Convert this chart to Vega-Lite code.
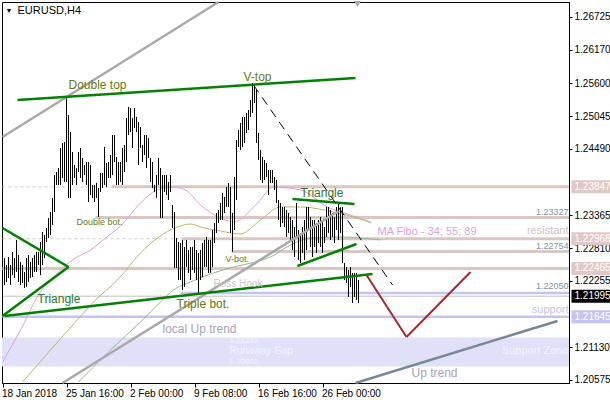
{
"$schema": "https://vega.github.io/schema/vega-lite/v6.json",
"width": 567, "height": 381,
"autosize": {"type": "none"},
"padding": {"left": 2, "top": 2, "right": 41, "bottom": 17},
"background": "white",
"config": {"view": {"stroke": "black", "strokeWidth": 1}, "font": "Liberation Sans"},
"encoding": {
 "x": {"field": "i", "type": "quantitative", "scale": {"domain": [-0.25, 283.25], "nice": false, "zero": false},
  "axis": {"title": null, "values": [0, 32, 64, 96, 128, 160], "labelExpr": "datum.value == 0 ? '18 Jan 2018' : datum.value == 32 ? '25 Jan 16:00' : datum.value == 64 ? '2 Feb 00:00' : datum.value == 96 ? '9 Feb 08:00' : datum.value == 128 ? '16 Feb 16:00' : '26 Feb 00:00'", "labelAlign": "left", "labelBaseline": "top", "labelFontSize": 10, "labelColor": "black", "labelPadding": 1, "labelOffset": -1, "tickSize": 4, "tickColor": "black", "domainColor": "black", "grid": false, "labelFlush": false, "labelOverlap": false}},
 "y": {"field": "p", "type": "quantitative", "scale": {"domain": [1.20524, 1.26979], "nice": false, "zero": false},
  "axis": {"orient": "right", "title": null, "values": [1.20575, 1.2113, 1.22255, 1.2281, 1.23365, 1.2449, 1.25045, 1.256, 1.2617, 1.26725], "format": ".5f", "labelFontSize": 10, "labelColor": "black", "tickSize": 3, "tickColor": "black", "domainColor": "black", "grid": false, "labelPadding": 2, "labelBaseline": "middle", "labelFlush": false, "labelOverlap": false}}
},
"layer": [
 {"data": {"values": [{"i": -0.25, "i2": 283.25, "p": 1.21293, "p2": 1.20802}]},
  "mark": {"type": "rect", "color": "#e0e0f8"},
  "encoding": {"x2": {"field": "i2"}, "y2": {"field": "p2"}}},
 {"data": {"values": [{"i": 0, "i2": 54.5, "p": 1.23847}, {"i": 0, "i2": 89.5, "p": 1.22968}]},
  "mark": {"type": "rule", "color": "#e6c4c4", "strokeWidth": 1, "strokeDash": [3, 3]},
  "encoding": {"x2": {"field": "i2"}}},
 {"data": {"values": [{"i": 54.5, "i2": 283.25, "p": 1.23847}, {"i": 46.5, "i2": 283.25, "p": 1.23327}, {"i": 89.5, "i2": 283.25, "p": 1.22968}, {"i": 114.5, "i2": 283.25, "p": 1.22754}, {"i": 0, "i2": 283.25, "p": 1.22465}]},
  "mark": {"type": "rule", "color": "#dcc6c2", "strokeWidth": 3},
  "encoding": {"x2": {"field": "i2"}}},
 {"data": {"values": [{"i": 89, "i2": 283.25, "p": 1.2205}, {"i": 0, "i2": 283.25, "p": 1.21645}]},
  "mark": {"type": "rule", "color": "#c4c4f4", "strokeWidth": 2.5},
  "encoding": {"x2": {"field": "i2"}}},
 {"data": {"values": [{"i": 0, "i2": 283.25, "p": 1.21995}]},
  "mark": {"type": "rule", "color": "#c0c0c0", "strokeWidth": 1},
  "encoding": {"x2": {"field": "i2"}}},
 {"data": {"values": [
  {"s": "34", "i": 0, "p": 1.2088}, {"s": "34", "i": 9, "p": 1.21421}, {"s": "34", "i": 18, "p": 1.22015}, {"s": "34", "i": 26.5, "p": 1.22354}, {"s": "34", "i": 36.5, "p": 1.22642}, {"s": "34", "i": 44, "p": 1.22777}, {"s": "34", "i": 51.5, "p": 1.22981}, {"s": "34", "i": 59.5, "p": 1.23201}, {"s": "34", "i": 68, "p": 1.2354}, {"s": "34", "i": 77.5, "p": 1.23794}, {"s": "34", "i": 85.5, "p": 1.23845}, {"s": "34", "i": 91.5, "p": 1.23794}, {"s": "34", "i": 99, "p": 1.2354}, {"s": "34", "i": 109, "p": 1.2332}, {"s": "34", "i": 115.5, "p": 1.23252}, {"s": "34", "i": 127.5, "p": 1.23574}, {"s": "34", "i": 135.5, "p": 1.23845}, {"s": "34", "i": 149, "p": 1.23794}, {"s": "34", "i": 162.5, "p": 1.23506}, {"s": "34", "i": 174, "p": 1.2337}, {"s": "34", "i": 184, "p": 1.23252},
  {"s": "55", "i": 10, "p": 1.20541}, {"s": "55", "i": 24, "p": 1.21083}, {"s": "55", "i": 36.5, "p": 1.21558}, {"s": "55", "i": 46.5, "p": 1.2193}, {"s": "55", "i": 57.5, "p": 1.22269}, {"s": "55", "i": 69, "p": 1.22727}, {"s": "55", "i": 77.5, "p": 1.22981}, {"s": "55", "i": 87.5, "p": 1.23167}, {"s": "55", "i": 94, "p": 1.23218}, {"s": "55", "i": 99, "p": 1.23167}, {"s": "55", "i": 109, "p": 1.23099}, {"s": "55", "i": 119, "p": 1.23049}, {"s": "55", "i": 129, "p": 1.23286}, {"s": "55", "i": 139, "p": 1.23506}, {"s": "55", "i": 149, "p": 1.23506}, {"s": "55", "i": 165.5, "p": 1.23421}, {"s": "55", "i": 175.5, "p": 1.23337}, {"s": "55", "i": 184.5, "p": 1.23235},
  {"s": "89", "i": 38, "p": 1.20541}, {"s": "89", "i": 54, "p": 1.21083}, {"s": "89", "i": 69, "p": 1.21558}, {"s": "89", "i": 79, "p": 1.21896}, {"s": "89", "i": 85.5, "p": 1.221}, {"s": "89", "i": 94, "p": 1.22235}, {"s": "89", "i": 104, "p": 1.22371}, {"s": "89", "i": 115.5, "p": 1.2249}, {"s": "89", "i": 126.5, "p": 1.22574}, {"s": "89", "i": 134, "p": 1.22659}, {"s": "89", "i": 144, "p": 1.22862}, {"s": "89", "i": 154, "p": 1.22981}, {"s": "89", "i": 169, "p": 1.22998}, {"s": "89", "i": 189, "p": 1.22947}
 ]},
  "mark": {"type": "line", "strokeWidth": 1, "interpolate": "monotone"},
  "encoding": {"color": {"field": "s", "type": "nominal", "scale": {"domain": ["34", "55", "89"], "range": ["#dda0dd", "#bdb76b", "#8fbc8f"]}, "legend": null}}},
 {"data": {"values": [
  {"i":0,"p":1.22185,"p2":1.21846},{"i":1,"p":1.22642,"p2":1.22185},{"i":2,"p":1.22523,"p2":1.22235},{"i":3,"p":1.22659,"p2":1.22303},{"i":4,"p":1.22523,"p2":1.22185},{"i":5,"p":1.22744,"p2":1.22354},{"i":6,"p":1.22642,"p2":1.22303},{"i":7,"p":1.22947,"p2":1.22405},{"i":8,"p":1.22693,"p2":1.22235},{"i":9,"p":1.22574,"p2":1.22185},
  {"i":10,"p":1.22523,"p2":1.22218},{"i":11,"p":1.22405,"p2":1.22134},{"i":12,"p":1.22642,"p2":1.22151},{"i":13,"p":1.22693,"p2":1.22235},{"i":14,"p":1.22574,"p2":1.22303},{"i":15,"p":1.22642,"p2":1.2232},{"i":16,"p":1.22693,"p2":1.22405},{"i":17,"p":1.22744,"p2":1.22405},{"i":18,"p":1.22744,"p2":1.22523},{"i":19,"p":1.22913,"p2":1.22354},
  {"i":20,"p":1.23083,"p2":1.22523},{"i":21,"p":1.23032,"p2":1.22642},{"i":22,"p":1.2315,"p2":1.22913},{"i":23,"p":1.2332,"p2":1.22981},{"i":24,"p":1.23421,"p2":1.23032},{"i":25,"p":1.23659,"p2":1.23201},{"i":26,"p":1.24048,"p2":1.23421},{"i":27,"p":1.24099,"p2":1.23879},{"i":28,"p":1.24167,"p2":1.23879},{"i":29,"p":1.24506,"p2":1.23879},
  {"i":30,"p":1.2459,"p2":1.23997},{"i":31,"p":1.24607,"p2":1.2393},{"i":32,"p":1.25353,"p2":1.2393},{"i":33,"p":1.25065,"p2":1.23659},{"i":34,"p":1.24777,"p2":1.23659},{"i":35,"p":1.24438,"p2":1.23879},{"i":36,"p":1.24218,"p2":1.23997},{"i":37,"p":1.24167,"p2":1.23879},{"i":38,"p":1.24438,"p2":1.24099},{"i":39,"p":1.24506,"p2":1.23997},
  {"i":40,"p":1.24336,"p2":1.2393},{"i":41,"p":1.24218,"p2":1.24048},{"i":42,"p":1.24268,"p2":1.23879},{"i":43,"p":1.24268,"p2":1.23591},{"i":44,"p":1.24218,"p2":1.23709},{"i":45,"p":1.23879,"p2":1.23659},{"i":46,"p":1.23879,"p2":1.23591},{"i":47,"p":1.23913,"p2":1.23659},{"i":48,"p":1.23828,"p2":1.23337},{"i":49,"p":1.24082,"p2":1.2376},
  {"i":50,"p":1.24082,"p2":1.23828},{"i":51,"p":1.24523,"p2":1.23879},{"i":52,"p":1.24251,"p2":1.23845},{"i":53,"p":1.24268,"p2":1.23997},{"i":54,"p":1.24387,"p2":1.23997},{"i":55,"p":1.24726,"p2":1.24048},{"i":56,"p":1.24726,"p2":1.24268},{"i":57,"p":1.24353,"p2":1.23879},{"i":58,"p":1.24268,"p2":1.23879},{"i":59,"p":1.24268,"p2":1.2393},
  {"i":60,"p":1.24506,"p2":1.23879},{"i":61,"p":1.24556,"p2":1.24099},{"i":62,"p":1.25014,"p2":1.24268},{"i":63,"p":1.252,"p2":1.24726},{"i":64,"p":1.25183,"p2":1.24777},{"i":65,"p":1.25014,"p2":1.24506},{"i":66,"p":1.25183,"p2":1.24844},{"i":67,"p":1.25031,"p2":1.24777},{"i":68,"p":1.24946,"p2":1.24218},{"i":69,"p":1.24861,"p2":1.24506},
  {"i":70,"p":1.24556,"p2":1.24268},{"i":71,"p":1.24726,"p2":1.24387},{"i":72,"p":1.24726,"p2":1.24167},{"i":73,"p":1.24675,"p2":1.24336},{"i":74,"p":1.24336,"p2":1.2393},{"i":75,"p":1.24268,"p2":1.23828},{"i":76,"p":1.23879,"p2":1.2376},{"i":77,"p":1.24048,"p2":1.23659},{"i":78,"p":1.24336,"p2":1.23879},{"i":79,"p":1.24167,"p2":1.2332},
  {"i":80,"p":1.24048,"p2":1.2332},{"i":81,"p":1.24048,"p2":1.2376},{"i":82,"p":1.24048,"p2":1.23709},{"i":83,"p":1.2393,"p2":1.23625},{"i":84,"p":1.24048,"p2":1.2376},{"i":85,"p":1.2354,"p2":1.2315},{"i":86,"p":1.23421,"p2":1.22473},{"i":87,"p":1.22981,"p2":1.22473},{"i":88,"p":1.22913,"p2":1.22269},{"i":89,"p":1.22896,"p2":1.22269},
  {"i":90,"p":1.22947,"p2":1.221},{"i":91,"p":1.22828,"p2":1.22151},{"i":92,"p":1.22947,"p2":1.2249},{"i":93,"p":1.22778,"p2":1.22388},{"i":94,"p":1.22828,"p2":1.22269},{"i":95,"p":1.22828,"p2":1.22439},{"i":96,"p":1.22947,"p2":1.22388},{"i":97,"p":1.22778,"p2":1.22269},{"i":98,"p":1.22727,"p2":1.22049},{"i":99,"p":1.22778,"p2":1.22269},
  {"i":100,"p":1.22896,"p2":1.2232},{"i":101,"p":1.22947,"p2":1.2249},{"i":102,"p":1.22998,"p2":1.2249},{"i":103,"p":1.22947,"p2":1.22388},{"i":104,"p":1.22947,"p2":1.22388},{"i":105,"p":1.23116,"p2":1.2249},{"i":106,"p":1.23235,"p2":1.22896},{"i":107,"p":1.23404,"p2":1.23066},{"i":108,"p":1.23455,"p2":1.23235},{"i":109,"p":1.23574,"p2":1.23286},
  {"i":110,"p":1.23743,"p2":1.23286},{"i":111,"p":1.23675,"p2":1.23404},{"i":112,"p":1.23845,"p2":1.23506},{"i":113,"p":1.23913,"p2":1.23506},{"i":114,"p":1.23845,"p2":1.23066},{"i":115,"p":1.23404,"p2":1.22744},{"i":116,"p":1.24014,"p2":1.23116},{"i":117,"p":1.24641,"p2":1.23625},{"i":118,"p":1.24811,"p2":1.24523},{"i":119,"p":1.24929,"p2":1.24472},
  {"i":120,"p":1.25031,"p2":1.24523},{"i":121,"p":1.25031,"p2":1.2459},{"i":122,"p":1.25099,"p2":1.2476},{"i":123,"p":1.25149,"p2":1.24811},{"i":124,"p":1.25319,"p2":1.25031},{"i":125,"p":1.25607,"p2":1.25099},{"i":126,"p":1.25539,"p2":1.25268},{"i":127,"p":1.25488,"p2":1.2459},{"i":128,"p":1.2476,"p2":1.24302},{"i":129,"p":1.24472,"p2":1.23963},
  {"i":130,"p":1.24353,"p2":1.23913},{"i":131,"p":1.24302,"p2":1.23963},{"i":132,"p":1.24251,"p2":1.24014},{"i":133,"p":1.24133,"p2":1.23709},{"i":134,"p":1.24133,"p2":1.23913},{"i":135,"p":1.24133,"p2":1.23913},{"i":136,"p":1.24014,"p2":1.23794},{"i":137,"p":1.23963,"p2":1.23574},{"i":138,"p":1.23625,"p2":1.23286},{"i":139,"p":1.23574,"p2":1.23167},
  {"i":140,"p":1.23506,"p2":1.23235},{"i":141,"p":1.23506,"p2":1.23167},{"i":142,"p":1.23455,"p2":1.22998},{"i":143,"p":1.23404,"p2":1.23066},{"i":144,"p":1.23337,"p2":1.22947},{"i":145,"p":1.23286,"p2":1.22778},{"i":146,"p":1.23167,"p2":1.22659},{"i":147,"p":1.23574,"p2":1.22998},{"i":148,"p":1.23116,"p2":1.22608},{"i":149,"p":1.23066,"p2":1.22557},
  {"i":150,"p":1.23167,"p2":1.22727},{"i":151,"p":1.23286,"p2":1.22608},{"i":152,"p":1.23506,"p2":1.22778},{"i":153,"p":1.23506,"p2":1.23116},{"i":154,"p":1.23337,"p2":1.22828},{"i":155,"p":1.23286,"p2":1.22659},{"i":156,"p":1.23286,"p2":1.22828},{"i":157,"p":1.23235,"p2":1.22727},{"i":158,"p":1.23286,"p2":1.22896},{"i":159,"p":1.23337,"p2":1.22828},
  {"i":160,"p":1.23286,"p2":1.22727},{"i":161,"p":1.23167,"p2":1.22896},{"i":162,"p":1.23506,"p2":1.22998},{"i":163,"p":1.23506,"p2":1.23066},{"i":164,"p":1.23455,"p2":1.22947},{"i":165,"p":1.23404,"p2":1.22998},{"i":166,"p":1.23337,"p2":1.22896},{"i":167,"p":1.23506,"p2":1.23116},{"i":168,"p":1.23574,"p2":1.22947},{"i":169,"p":1.23506,"p2":1.23066},
  {"i":170,"p":1.23506,"p2":1.22557},{"i":171,"p":1.22557,"p2":1.22269},{"i":172,"p":1.2249,"p2":1.22218},{"i":173,"p":1.22439,"p2":1.21981},{"i":174,"p":1.2249,"p2":1.22151},{"i":175,"p":1.22388,"p2":1.2188},{"i":176,"p":1.22388,"p2":1.21981},{"i":177,"p":1.22388,"p2":1.2193},{"i":178,"p":1.22269,"p2":1.2188}
 ]},
  "mark": {"type": "rule", "color": "black", "strokeWidth": 1},
  "encoding": {"y2": {"field": "p2"}}},
 {"data": {"values": [{"i": 0, "p": 1.24692, "i2": 108, "p2": 1.26979}, {"i": 30, "p": 1.20524, "i2": 168, "p2": 1.23438}]},
  "mark": {"type": "rule", "color": "#a9a9a9", "strokeWidth": 2.5},
  "encoding": {"x2": {"field": "i2"}, "y2": {"field": "p2"}}},
 {"data": {"values": [{"i": 176.5, "p": 1.20524, "i2": 277.5, "p2": 1.21575}]},
  "mark": {"type": "rule", "color": "#778899", "strokeWidth": 2.5},
  "encoding": {"x2": {"field": "i2"}, "y2": {"field": "p2"}}},
 {"data": {"values": [{"i": 7.5, "p": 1.25319, "i2": 176.5, "p2": 1.25692}, {"i": 0, "p": 1.2315, "i2": 33, "p2": 1.2249}, {"i": 33, "p": 1.2249, "i2": 0, "p2": 1.21659}, {"i": 1, "p": 1.21659, "i2": 185, "p2": 1.22371}, {"i": 145, "p": 1.23642, "i2": 176, "p2": 1.23557}, {"i": 147.5, "p": 1.22506, "i2": 177, "p2": 1.22879}]},
  "mark": {"type": "rule", "color": "#008000", "strokeWidth": 2.5},
  "encoding": {"x2": {"field": "i2"}, "y2": {"field": "p2"}}},
 {"data": {"values": [{"i": 125.5, "p": 1.25573, "i2": 195, "p2": 1.22185}]},
  "mark": {"type": "rule", "color": "black", "strokeWidth": 1, "strokeDash": [9, 6]},
  "encoding": {"x2": {"field": "i2"}, "y2": {"field": "p2"}}},
 {"data": {"values": [{"i": 182, "p": 1.22354, "i2": 202, "p2": 1.21303}, {"i": 202, "p": 1.21303, "i2": 234, "p2": 1.22405}]},
  "mark": {"type": "rule", "color": "#a52a2a", "strokeWidth": 2},
  "encoding": {"x2": {"field": "i2"}, "y2": {"field": "p2"}}},
 {"data": {"values": [{"i": 177.5, "p": 1.26945}]},
  "mark": {"type": "point", "shape": "triangle-down", "filled": true, "color": "#a9a9a9", "size": 45, "opacity": 1}},
 {"data": {"values": [{"t": "EURUSD,H4", "i": 7.5, "p": 1.26827}]},
  "mark": {"type": "text", "align": "left", "baseline": "middle", "fontSize": 11, "color": "black"},
  "encoding": {"text": {"field": "t"}}},
 {"data": {"values": [{"t": "▼", "i": 1.5, "p": 1.26827}]},
  "mark": {"type": "text", "align": "left", "baseline": "middle", "fontSize": 7, "color": "black"},
  "encoding": {"text": {"field": "t"}}},
 {"data": {"values": [{"t": "Double top", "i": 33, "p": 1.25573}, {"t": "V-top", "i": 120.5, "p": 1.25708}, {"t": "Triple bot.", "i": 87, "p": 1.21863}]},
  "mark": {"type": "text", "align": "left", "baseline": "middle", "fontSize": 12, "color": "#667a14"},
  "encoding": {"text": {"field": "t"}}},
 {"data": {"values": [{"t": "Triangle", "i": 149, "p": 1.23743}, {"t": "Triangle", "i": 17.5, "p": 1.21947}]},
  "mark": {"type": "text", "align": "left", "baseline": "middle", "fontSize": 12, "color": "#2e7a2e"},
  "encoding": {"text": {"field": "t"}}},
 {"data": {"values": [{"t": "Double bot.", "i": 37, "p": 1.23252}, {"t": "V-bot.", "i": 111.5, "p": 1.22625}]},
  "mark": {"type": "text", "align": "left", "baseline": "middle", "fontSize": 9, "color": "#667a14"},
  "encoding": {"text": {"field": "t"}}},
 {"data": {"values": [{"t": "Ross Hook", "i": 105.5, "p": 1.22201}]},
  "mark": {"type": "text", "align": "left", "baseline": "middle", "fontSize": 10, "color": "#c8c8c8"},
  "encoding": {"text": {"field": "t"}}},
 {"data": {"values": [{"t": "local Up trend", "i": 80, "p": 1.21439}, {"t": "Up trend", "i": 204.5, "p": 1.20694}]},
  "mark": {"type": "text", "align": "left", "baseline": "middle", "fontSize": 12, "color": "#a4a4bc"},
  "encoding": {"text": {"field": "t"}}},
 {"data": {"values": [{"t": "1.21293", "i": 113.5, "p": 1.21236}, {"t": "1.20802", "i": 113.5, "p": 1.2088}]},
  "mark": {"type": "text", "align": "left", "baseline": "middle", "fontSize": 8, "color": "#f4f4ff"},
  "encoding": {"text": {"field": "t"}}},
 {"data": {"values": [{"t": "Runaway Gap", "i": 113.5, "p": 1.21066}]},
  "mark": {"type": "text", "align": "left", "baseline": "middle", "fontSize": 10, "color": "#f4f4ff"},
  "encoding": {"text": {"field": "t"}}},
 {"data": {"values": [{"t": "Support Zone", "i": 283, "p": 1.21066}]},
  "mark": {"type": "text", "align": "right", "baseline": "middle", "fontSize": 11, "color": "#f4f4ff"},
  "encoding": {"text": {"field": "t"}}},
 {"data": {"values": [{"t": "support", "i": 283, "p": 1.21761}]},
  "mark": {"type": "text", "align": "right", "baseline": "middle", "fontSize": 11, "color": "#c4c4ec"},
  "encoding": {"text": {"field": "t"}}},
 {"data": {"values": [{"t": "resistant", "i": 283, "p": 1.231}]},
  "mark": {"type": "text", "align": "right", "baseline": "middle", "fontSize": 11, "color": "#d8c0bc"},
  "encoding": {"text": {"field": "t"}}},
 {"data": {"values": [{"t": "MA Fibo - 34; 55; 89", "i": 187.5, "p": 1.23083}]},
  "mark": {"type": "text", "align": "left", "baseline": "middle", "fontSize": 11, "color": "#e0a0e0"},
  "encoding": {"text": {"field": "t"}}},
 {"data": {"values": [{"t": "1.23327", "i": 283, "p": 1.23421}, {"t": "1.22754", "i": 283, "p": 1.22845}, {"t": "1.22050", "i": 283, "p": 1.22168}]},
  "mark": {"type": "text", "align": "right", "baseline": "middle", "fontSize": 9, "color": "#8090a0"},
  "encoding": {"text": {"field": "t"}}},
 {"data": {"values": [{"i": 284.5, "i2": 304, "p": 1.23847}, {"i": 284.5, "i2": 304, "p": 1.22968}, {"i": 284.5, "i2": 304, "p": 1.22465}]},
  "mark": {"type": "rule", "color": "#e0c8c4", "strokeWidth": 13},
  "encoding": {"x2": {"field": "i2"}}},
 {"data": {"values": [{"i": 284.5, "i2": 304, "p": 1.21995}]},
  "mark": {"type": "rule", "color": "black", "strokeWidth": 13},
  "encoding": {"x2": {"field": "i2"}}},
 {"data": {"values": [{"i": 284.5, "i2": 304, "p": 1.21645}]},
  "mark": {"type": "rule", "color": "#c4c4f4", "strokeWidth": 13},
  "encoding": {"x2": {"field": "i2"}}},
 {"data": {"values": [{"t": "1.23847", "i": 286, "p": 1.23847}, {"t": "1.22968", "i": 286, "p": 1.22968}, {"t": "1.22465", "i": 286, "p": 1.22465}, {"t": "1.21995", "i": 286, "p": 1.21995}, {"t": "1.21645", "i": 286, "p": 1.21645}]},
  "mark": {"type": "text", "align": "left", "baseline": "middle", "fontSize": 10, "color": "white"},
  "encoding": {"text": {"field": "t"}}}
]
}
